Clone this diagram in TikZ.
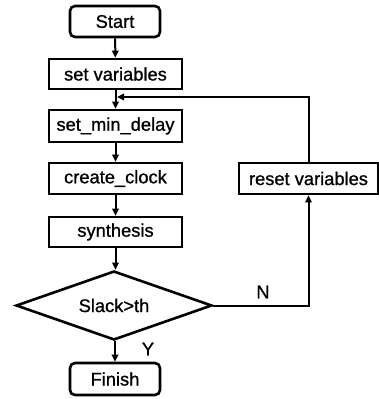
\documentclass[tikz,border=0pt]{standalone}
\usepackage{fontspec}
\setmainfont{Liberation Sans}
\newfontface\yh[FakeBold=0.9]{Liberation Sans}
\usetikzlibrary{shapes.geometric,arrows.meta}
\begin{document}
\begin{tikzpicture}[x=1pt,y=-1pt,
  txt/.style={font=\yh\fontsize{18.3}{20}\selectfont},
  box/.style={draw,line width=2.6pt,minimum width=133pt,minimum height=30pt,inner sep=0pt,txt},
  term/.style={box,rounded corners=5pt,minimum width=90pt,minimum height=31pt},
  dec/.style={draw,diamond,line width=2.6pt,minimum width=196pt,minimum height=69pt,aspect=2.84,inner sep=0pt,txt},
  arr/.style={line width=2pt,-{Triangle[length=7pt,width=6.5pt]}},
  lbl/.style={txt}]
\useasboundingbox (0,0) rectangle (379,399);
\node[term] (start) at (115,21.5) {Start};
\node[box] (setvar) at (115.5,74) {set variables};
\node[box,minimum height=32pt] (setmin) at (115.5,126) {set\_min\_delay};
\node[box,minimum height=31pt] (create) at (115.5,178.5) {create\_clock};
\node[box] (synth) at (115.5,232) {synthesis};
\node[dec] (check) at (114,305.5) {Slack>th};
\node[term,minimum height=32pt] (finish) at (115,379) {Finish};
\node[box,minimum width=139pt,minimum height=31pt] (reset) at (308.5,178.5) {reset variables};
\coordinate (join) at (117,97);
\draw[arr] (start) -- (setvar);
\draw[arr] (setvar.south -| setmin.north) -- (setmin.north);
\draw[arr] (setmin) -- (create);
\draw[arr] (create) -- (synth);
\draw[arr] (synth.south) -- (synth.south |- check.north);
\draw[arr] (check.south -| finish.north) -- (finish.north);
\draw[arr] (check.east) -| (reset.south);
\draw[arr] (reset.north) |- (join);
\node[lbl] (nlab) at (263,292) {N};
\node[lbl] (ylab) at (148,349) {Y};
\end{tikzpicture}
\end{document}
